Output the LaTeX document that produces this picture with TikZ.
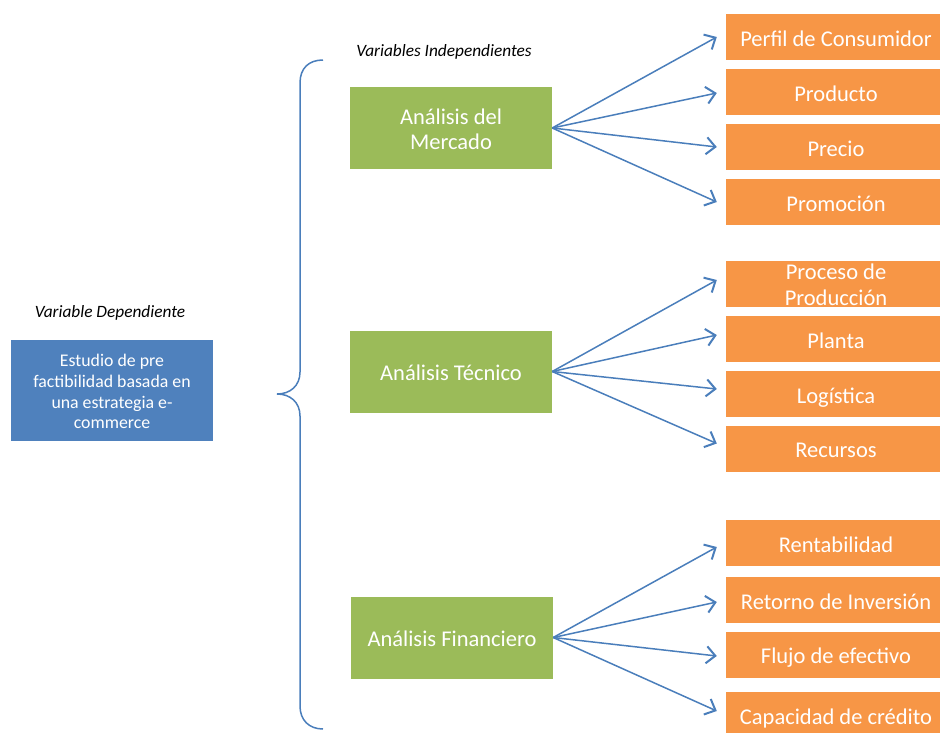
\documentclass[tikz,border=0pt]{standalone}
\usepackage{fontspec}
\setmainfont{Carlito}
\usetikzlibrary{arrows.meta,calc}
\definecolor{ora}{HTML}{F79646}
\definecolor{gre}{HTML}{9BBB59}
\definecolor{blu}{HTML}{4F81BD}
\definecolor{lin}{HTML}{4A7EBB}
\newcommand{\topstrut}[1]{\rule{0pt}{#1pt}}
\newcommand{\botstrut}[1]{\rule[-#1pt]{0pt}{0pt}}
\tikzset{
  obox/.style={fill=ora,draw=none,minimum width=220pt,minimum height=46pt,inner sep=0pt,text=white,align=center,font=\fontsize{22.5}{25.6}\selectfont},
  gbox/.style={fill=gre,draw=none,minimum width=202pt,minimum height=82pt,inner sep=0pt,text=white,align=center,font=\fontsize{22.5}{25.6}\selectfont},
  one/.style={text height=20pt,text depth=2pt},
  bbox/.style={fill=blu,draw=none,minimum width=202pt,minimum height=101pt,inner sep=0pt,text=white,align=center,font=\fontsize{17.8}{20.8}\selectfont},
  lab/.style={font=\fontsize{17.3}{20}\selectfont\itshape,inner sep=0pt},
  conn/.style={draw=lin,line width=1.5pt,-{Straight Barb[length=9pt,width=17pt,line width=2pt]}},
  brace/.style={draw=lin,line width=1.5pt}
}
\begin{document}
\begin{tikzpicture}[x=1pt,y=-1pt]
\useasboundingbox (0,0) rectangle (940,732);
% labels
\node[lab] (ld) at (110,313) {Variable Dependiente};
\node[lab] (li) at (444,52) {Variables Independientes};
% dependent
\node[bbox] (dep) at (112,390.5) {\topstrut{17.5}Estudio de pre\\factibilidad basada en\\una estrategia e-\\commerce\botstrut{3.1}};
% brace
\draw[brace] (323,60) .. controls (309,60) and (300,68) .. (300,83) -- (300,372)
  .. controls (300,386) and (290,394) .. (277,394)
  .. controls (290,394) and (300,402) .. (300,416) -- (300,706)
  .. controls (300,720) and (309,729) .. (323,729);
% green boxes
\node[gbox] (g1) at (451,128) {\topstrut{22}Análisis del\\Mercado\botstrut{3.9}};
\node[gbox,one] (g2) at (451,371.5) {Análisis Técnico};
\node[gbox,one] (g3) at (452,637.5) {Análisis Financiero};
% orange boxes
\node[obox,one] (a1) at (836,37) {Perfil de Consumidor};
\node[obox,one] (a2) at (836,92) {Producto};
\node[obox,one] (a3) at (836,147) {Precio};
\node[obox,one] (a4) at (836,202) {Promoción};
\node[obox,text height=42pt,text depth=0pt] (b1) at (836,284) {Proceso de\\Producción};
\node[obox,one] (b2) at (836,339) {Planta};
\node[obox,one] (b3) at (836,394) {Logística};
\node[obox,one] (b4) at (836,448.5) {Recursos};
\node[obox,one] (c1) at (836,543) {Rentabilidad};
\node[obox,one] (c2) at (836,600) {Retorno de Inversión};
\node[obox,one] (c3) at (836,654.5) {Flujo de efectivo};
\node[obox,one] (c4) at (836,715) {Capacidad de crédito};
% connectors
\foreach \t/\d in {a1/0,a2/1,a3/0,a4/0}
  \draw[conn] (g1.east) -- ($(\t.west)+(-9,\d)$);
\foreach \t/\d in {b1/-4,b2/-4,b3/-5,b4/-5}
  \draw[conn] (g2.east) -- ($(\t.west)+(-9,\d)$);
\foreach \t/\d in {c1/4,c2/2,c3/1.5,c4/-4}
  \draw[conn] (g3.east) -- ($(\t.west)+(-9,\d)$);
\end{tikzpicture}
\end{document}
